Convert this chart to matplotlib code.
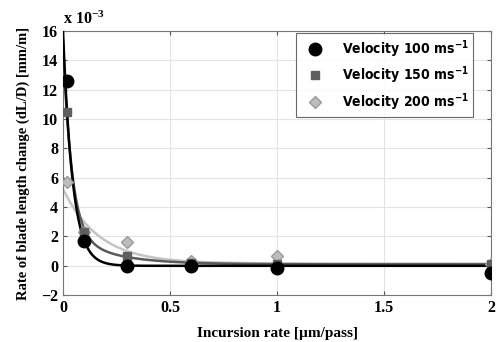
import numpy as np
import matplotlib
matplotlib.use("Agg")
import matplotlib.pyplot as plt
from matplotlib.font_manager import FontProperties

plt.rcParams["mathtext.default"] = "regular"

# data (values in units of 1e-3)
x_pts = [0.02, 0.1, 0.3, 0.6, 1.0, 2.0]
v100 = [12.6, 1.7, 0.0, 0.0, -0.15, -0.5]
v150 = [10.5, 2.3, 0.7, 0.2, 0.1, 0.1]
v200 = [5.7, 2.3, 1.6, 0.3, 0.7, 0.15]
labels = ["Velocity 100 ms$^{-1}$", "Velocity 150 ms$^{-1}$", "Velocity 200 ms$^{-1}$"]

# fitted curve parameters: a1*exp(-x/t1) + a2*exp(-x/t2) + c
fit100 = [16.0, 0.0446, 0.0, 1.0, 0.0]
fit150 = [13.0, 0.04, 2.2, 0.2, 0.1]
fit200 = [0.0, 1.0, 5.1, 0.168, 0.15]

serif = "Liberation Serif"

fig = plt.figure(figsize=(4.98, 3.42), dpi=100)
ax = fig.add_axes([0.1265, 0.137, 0.86, 0.772])

xs = np.linspace(0, 2, 600)
def curve(p):
    a1, t1, a2, t2, c = p
    return a1*np.exp(-xs/t1) + a2*np.exp(-xs/t2) + c

ax.plot(xs, curve(fit200), color="#c4c4c4", lw=1.8, zorder=2)
ax.plot(xs, curve(fit150), color="#5a5a5a", lw=1.8, zorder=3)
ax.plot(xs, curve(fit100), color="black", lw=1.8, zorder=4)

h1, = ax.plot(x_pts, v100, "o", ms=9, color="black", zorder=7, label=labels[0])
h2, = ax.plot(x_pts, v150, "s", ms=6, color="#5f5f5f", zorder=6, label=labels[1])
h3, = ax.plot(x_pts, v200, "D", ms=6.5, mfc="#bdbdbd", mec="#999999", zorder=5, label=labels[2])

ax.set_xlim(0, 2)
ax.set_ylim(-2, 16)
ax.set_xticks([0, 0.5, 1, 1.5, 2])
ax.set_xticklabels(["0", "0.5", "1", "1.5", "2"])
ax.set_yticks(range(-2, 17, 2))
ax.grid(True, color="#e3e3e3", lw=0.8)
ax.set_axisbelow(True)
ax.tick_params(direction="in", top=True, right=True, length=3, color="#555555")
for lab in ax.get_xticklabels() + ax.get_yticklabels():
    lab.set_fontfamily(serif)
    lab.set_fontweight("bold")
    lab.set_fontsize(11.5)
for s in ax.spines.values():
    s.set_color("#777777")
    s.set_linewidth(0.8)

ax.set_xlabel("Incursion rate [\u00b5m/pass]", fontfamily=serif, fontweight="bold", fontsize=11, labelpad=8)
ax.set_ylabel("Rate of blade length change (dL/D) [mm/m]", fontfamily=serif, fontweight="bold", fontsize=10.5, labelpad=8)

ax.text(0.0, 1.01, "x 10$^{-3}$", transform=ax.transAxes, fontfamily=serif,
        fontweight="bold", fontsize=11.5, ha="left", va="bottom")

legfont = FontProperties(family="DejaVu Sans", weight="bold", stretch="condensed", size=10)
leg = ax.legend(handles=[h1, h2, h3], loc="upper right", bbox_to_anchor=(0.958, 0.992),
                borderaxespad=0, frameon=True, fancybox=False, edgecolor="#444444",
                borderpad=0.35, handletextpad=0.9, handlelength=2.0, labelspacing=0.35,
                prop=legfont)
leg.get_frame().set_linewidth(0.8)

fig.savefig("out.png", dpi=100)
